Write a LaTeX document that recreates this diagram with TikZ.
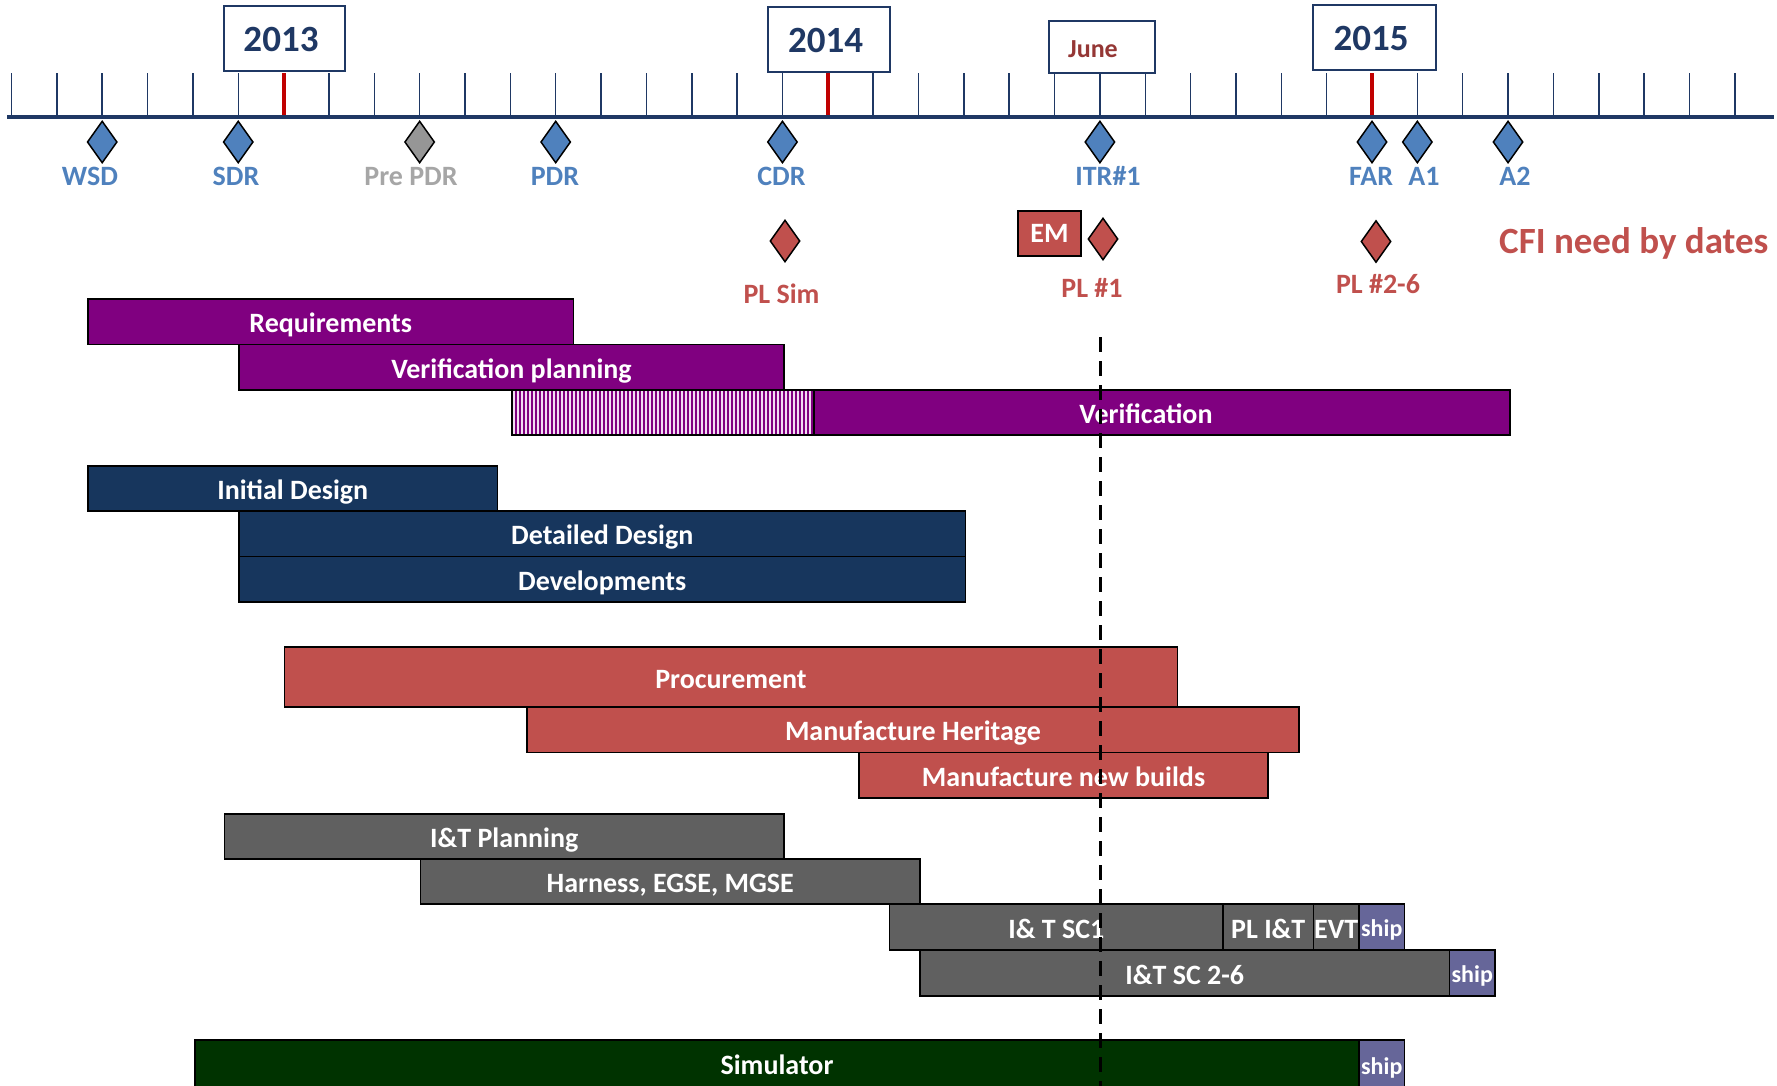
\documentclass[tikz,border=0pt]{standalone}
\usepackage{fontspec}
\setmainfont{Carlito}
\usetikzlibrary{shapes.geometric}
\definecolor{navy}{HTML}{1F3864}
\definecolor{tickred}{HTML}{C00000}
\definecolor{msblue}{HTML}{4F81BD}
\definecolor{msgray}{HTML}{969696}
\definecolor{lblgray}{HTML}{A6A6A6}
\definecolor{msred}{HTML}{C0504D}
\definecolor{junered}{HTML}{953735}
\definecolor{purp}{HTML}{800080}
\definecolor{pinkstripe}{HTML}{F2DCF2}
\definecolor{dblue}{HTML}{17365D}
\definecolor{dgray}{HTML}{606060}
\definecolor{dgreen}{HTML}{003300}
\definecolor{shipc}{HTML}{666699}
\newcommand\gbar[7]{%
  \node[barbox, fill=#6, minimum width={#4-#2}, minimum height={#5-#3}] (#1) at ({(#2+#4)/2},{(#3+#5)/2}) {#7};}
\begin{document}
\begin{tikzpicture}[x=1pt,y=-1pt,
  tick/.style={navy, line width=1.5pt},
  redtick/.style={tickred, line width=4pt},
  yearbox/.style={draw=navy, line width=1.5pt, fill=white, inner sep=0pt},
  yeartext/.style={text=navy, inner sep=0pt, font=\fontsize{37}{42}\selectfont\bfseries},
  msdiam/.style={diamond, draw=black, line width=1.5pt, minimum width=30pt, minimum height=42pt, inner sep=0pt},
  lbl/.style={font=\fontsize{28}{32}\selectfont\bfseries, inner sep=0pt, anchor=base},
  barbox/.style={draw=black, line width=1.5pt, inner sep=0pt, text=white, font=\fontsize{28}{32}\selectfont\bfseries, text height=22pt, text depth=0pt},
  barlbl/.style={text=white, font=\fontsize{28}{32}\selectfont\bfseries, inner sep=0pt, text height=22pt, text depth=0pt},
  shipbox/.style={barbox, fill=shipc, font=\fontsize{24}{28}\selectfont\bfseries, text height=19pt, text depth=0pt}
]
\useasboundingbox (0,0) rectangle (1777,1085);

% ---- time axis ----
\foreach \k in {0,...,38}{
  \draw[tick] ({11.5+45.35*\k},73) -- ({11.5+45.35*\k},117);
}
\foreach \k in {6,18,30}{
  \draw[redtick] ({11.5+45.35*\k},73) -- ({11.5+45.35*\k},117);
}
\coordinate (axL) at (7,117);
\coordinate (axR) at (1774,117);
\draw[navy, line width=3.5pt] (axL) -- (axR);

% ---- year boxes ----
\node[yearbox, minimum width=121pt, minimum height=65pt] (y2013) at (284.5,38.5) {};
\node[yeartext] (y2013T) at (281,39.5) {2013};
\node[yearbox, minimum width=122pt, minimum height=65pt] (y2014) at (829,39.5) {};
\node[yeartext] (y2014T) at (825.5,40.5) {2014};
\node[yearbox, minimum width=123pt, minimum height=65pt] (y2015) at (1374.5,37.5) {};
\node[yeartext] (y2015T) at (1371,38.5) {2015};
\node[yearbox, minimum width=106pt, minimum height=52pt] (june) at (1102,47) {};
\node[text=junered, font=\fontsize{26}{30}\selectfont\bfseries, inner sep=0pt, anchor=base] (juneT) at (1093,57) {June};

% ---- milestones ----
\node[msdiam, fill=msblue] (wsd) at ({11.5+45.35*2},142) {};
\node[msdiam, fill=msblue] (sdr) at ({11.5+45.35*5},142) {};
\node[msdiam, fill=msgray] (prepdr) at ({11.5+45.35*9},142) {};
\node[msdiam, fill=msblue] (pdr) at ({11.5+45.35*12},142) {};
\node[msdiam, fill=msblue] (cdr) at ({11.5+45.35*17},142) {};
\node[msdiam, fill=msblue] (itr) at ({11.5+45.35*24},142) {};
\node[msdiam, fill=msblue] (far) at ({11.5+45.35*30},142) {};
\node[msdiam, fill=msblue] (a1) at ({11.5+45.35*31},142) {};
\node[msdiam, fill=msblue] (a2) at ({11.5+45.35*33},142) {};

\node[lbl, text=msblue] (wsdL) at (90,185) {WSD};
\node[lbl, text=msblue] (sdrL) at (236,185) {SDR};
\node[lbl, text=lblgray] (prepdrL) at (411,185) {Pre PDR};
\node[lbl, text=msblue] (pdrL) at (555,185) {PDR};
\node[lbl, text=msblue] (cdrL) at (781.5,185) {CDR};
\node[lbl, text=msblue] (itrL) at (1108,185) {ITR\#1};
\node[lbl, text=msblue] (farL) at (1371,185) {FAR};
\node[lbl, text=msblue] (a1L) at (1424,185) {A1};
\node[lbl, text=msblue] (a2L) at (1515,185) {A2};

% ---- CFI need by dates ----
\node[msdiam, fill=msred] (plsim) at (785,241) {};
\node[msdiam, fill=msred] (pl1) at (1103,239) {};
\node[msdiam, fill=msred] (pl26) at (1376,241.5) {};
\node[draw=black, line width=1.5pt, fill=msred, minimum width=63pt, minimum height=45pt, inner sep=0pt, text=white, font=\fontsize{28}{32}\selectfont\bfseries] (em) at (1049.5,233.5) {EM};
\node[lbl, text=msred] (plsimL) at (781.5,303) {PL Sim};
\node[lbl, text=msred] (pl1L) at (1092,297) {PL \#1};
\node[lbl, text=msred] (pl26L) at (1378,293) {PL \#2-6};
\node[text=msred, font=\fontsize{37}{42}\selectfont\bfseries, inner sep=0pt, anchor=base west] (cfi) at (1499,253) {CFI need by dates};

% ---- requirements / verification ----
\gbar{req}{88}{299}{573.5}{344.5}{purp}{Requirements}
\gbar{vplan}{239}{344.5}{784}{390}{purp}{Verification planning}
\fill[purp] (512,390) rectangle (814,435);
\foreach \x in {514,518,...,812}{
  \draw[pinkstripe, line width=2pt] (\x,391) -- (\x,434);
}
\node[draw=black, line width=1.5pt, minimum width=302pt, minimum height=45pt, inner sep=0pt] (hatch) at (663,412.5) {};
\gbar{verif}{814}{390}{1510}{435}{purp}{}
\node[barlbl] (verifL) at (1146,412.5) {Verification};

% ---- design ----
\gbar{idesign}{88}{466}{497.5}{511}{dblue}{Initial Design}
\gbar{ddesign}{239}{511}{965.5}{556.5}{dblue}{Detailed Design}
\gbar{devel}{239}{556.5}{965.5}{602}{dblue}{Developments}

% ---- procurement / manufacture ----
\gbar{proc}{284.5}{647}{1177.5}{707}{msred}{Procurement}
\gbar{mheri}{527}{707}{1299}{752.5}{msred}{Manufacture Heritage}
\gbar{mnew}{859}{752.5}{1268}{798}{msred}{Manufacture new builds}

% ---- I&T ----
\gbar{itplan}{224.5}{814}{784}{859}{dgray}{I\&T Planning}
\gbar{harness}{420.5}{859}{920}{904}{dgray}{Harness, EGSE, MGSE}
\gbar{itsc1}{889.5}{904}{1223}{950}{dgray}{I\& T SC1}
\gbar{plit}{1223}{904}{1313.5}{950}{dgray}{PL I\&T}
\gbar{evt}{1313.5}{904}{1359}{950}{dgray}{EVT}
\node[shipbox, minimum width=45.5pt, minimum height=46pt] (ship1) at (1381.75,927) {ship};
\gbar{itsc26}{920}{950}{1449.5}{996}{dgray}{I\&T SC 2-6}
\node[shipbox, minimum width=45.5pt, minimum height=46pt] (ship2) at (1472.25,973) {ship};

% ---- simulator ----
\gbar{sim}{195}{1040}{1359}{1090}{dgreen}{}
\node[barlbl] (simL) at (777,1063) {Simulator};
\node[shipbox, minimum width=45.5pt, minimum height=50pt] (ship3) at (1381.75,1065) {ship};

% ---- dashed line (June) ----
\coordinate (dtop) at (1100,337);
\coordinate (dbot) at (1100,1090);
\draw[black, line width=3pt, dash pattern=on 15pt off 9pt] (dtop) -- (dbot);
\end{tikzpicture}
\end{document}
